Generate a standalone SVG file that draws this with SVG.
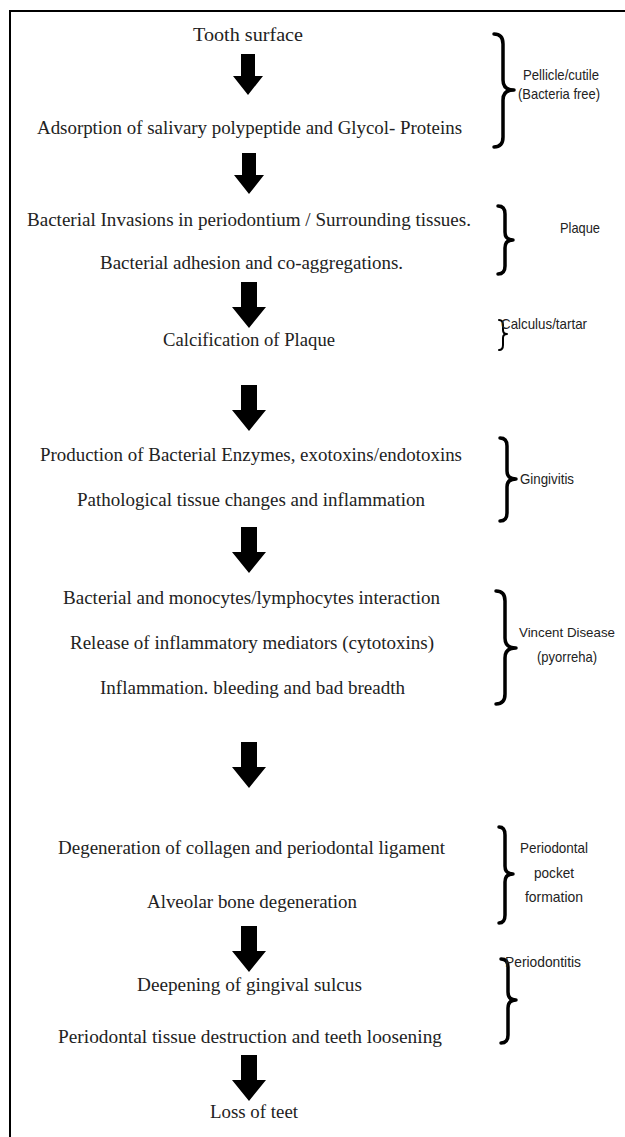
<svg xmlns="http://www.w3.org/2000/svg" xmlns:xlink="http://www.w3.org/1999/xlink" width="625" height="1137" viewBox="0 0 625 1137">
<style>
.t{font-family:"Liberation Serif","Times New Roman",serif;font-size:18px;fill:#222;text-anchor:middle}
.l{font-family:"Liberation Sans",Arial,sans-serif;font-size:15px;fill:#222}
.c{text-anchor:middle}
.br{fill:none;stroke:#000;stroke-width:3.5;stroke-linecap:round;stroke-linejoin:round}
.frame{fill:none;stroke:#000;stroke-width:2}
</style>
<defs>
<path id="arr" d="M-7,0 H7 V22 H15 L0,41 L-15,22 H-7 Z" fill="#000"/>
<path id="arrL" d="M-8,0 H8 V25 H17 L0,46 L-17,25 H-8 Z" fill="#000"/>
</defs>
<rect width="625" height="1137" fill="#fff"/>
<path class="frame" d="M10,1137 V11 H625"/>
<g id="connectors">
<use xlink:href="#arr" href="#arr" x="248" y="54"/>
<use xlink:href="#arr" href="#arr" x="249" y="153"/>
<use xlink:href="#arrL" href="#arrL" x="249" y="282"/>
<use xlink:href="#arrL" href="#arrL" x="249" y="385"/>
<use xlink:href="#arrL" href="#arrL" x="249" y="527"/>
<use xlink:href="#arrL" href="#arrL" x="249" y="742"/>
<use xlink:href="#arrL" href="#arrL" x="249" y="926"/>
<use xlink:href="#arrL" href="#arrL" x="249" y="1055"/>
</g>
<g id="n1"><text class="t" x="248" y="41" textLength="110" lengthAdjust="spacingAndGlyphs">Tooth surface</text></g>
<g id="n2"><text class="t" x="249.5" y="134" textLength="425" lengthAdjust="spacingAndGlyphs">Adsorption of salivary polypeptide and Glycol- Proteins</text></g>
<g id="n3"><text class="t" x="249" y="226" textLength="444" lengthAdjust="spacingAndGlyphs">Bacterial Invasions in periodontium / Surrounding tissues.</text></g>
<g id="n4"><text class="t" x="251.5" y="269" textLength="303" lengthAdjust="spacingAndGlyphs">Bacterial adhesion and co-aggregations.</text></g>
<g id="n5"><text class="t" x="249" y="346" textLength="172" lengthAdjust="spacingAndGlyphs">Calcification of Plaque</text></g>
<g id="n6"><text class="t" x="251" y="461" textLength="422" lengthAdjust="spacingAndGlyphs">Production of Bacterial Enzymes, exotoxins/endotoxins</text></g>
<g id="n7"><text class="t" x="251" y="506" textLength="348" lengthAdjust="spacingAndGlyphs">Pathological tissue changes and inflammation</text></g>
<g id="n8"><text class="t" x="251.5" y="604" textLength="377" lengthAdjust="spacingAndGlyphs">Bacterial and monocytes/lymphocytes interaction</text></g>
<g id="n9"><text class="t" x="252" y="649" textLength="364" lengthAdjust="spacingAndGlyphs">Release of inflammatory mediators (cytotoxins)</text></g>
<g id="n10"><text class="t" x="252.5" y="694" textLength="305" lengthAdjust="spacingAndGlyphs">Inflammation. bleeding and bad breadth</text></g>
<g id="n11"><text class="t" x="251.5" y="854" textLength="387" lengthAdjust="spacingAndGlyphs">Degeneration of collagen and periodontal ligament</text></g>
<g id="n12"><text class="t" x="252" y="908" textLength="210" lengthAdjust="spacingAndGlyphs">Alveolar bone degeneration</text></g>
<g id="n13"><text class="t" x="249.5" y="991" textLength="225" lengthAdjust="spacingAndGlyphs">Deepening of gingival sulcus</text></g>
<g id="n14"><text class="t" x="250" y="1043" textLength="384" lengthAdjust="spacingAndGlyphs">Periodontal tissue destruction and teeth loosening</text></g>
<g id="n15"><text class="t" x="254" y="1118" textLength="88" lengthAdjust="spacingAndGlyphs">Loss of teet</text></g>
<g id="b1">
<path class="br" d="M494,34 Q503,34 503,44 V80 Q503,90 514,90 Q503,90 503,100 V137 Q503,147 494,147"/>
<text class="l c" x="561" y="80" textLength="76" lengthAdjust="spacingAndGlyphs">Pellicle/cutile</text>
<text class="l c" x="559" y="99" textLength="82" lengthAdjust="spacingAndGlyphs">(Bacteria free)</text>
</g>
<g id="b2">
<path class="br" d="M498,206 Q505,206 505,214 V232 Q505,240 513,240 Q505,240 505,248 V266 Q505,274 498,274"/>
<text class="l c" x="580" y="233" textLength="40" lengthAdjust="spacingAndGlyphs">Plaque</text>
</g>
<g id="b3">
<path class="br" style="stroke-width:2" d="M499,320 Q503,320 503,325 V330 Q503,334 507,334 Q503,334 503,338 V345 Q503,350 499,350"/>
<text class="l" x="501" y="329" textLength="86" lengthAdjust="spacingAndGlyphs">Calculus/tartar</text>
</g>
<g id="b4">
<path class="br" d="M500,438 Q507,438 507,446 V471 Q507,479 516,479 Q507,479 507,487 V513 Q507,521 500,521"/>
<text class="l" x="520" y="484" textLength="54" lengthAdjust="spacingAndGlyphs">Gingivitis</text>
</g>
<g id="b5">
<path class="br" d="M496,591 Q505,591 505,601 V638 Q505,648 516,648 Q505,648 505,658 V694 Q505,704 496,704"/>
<text class="l c" x="567" y="637" style="font-size:13.5px" textLength="96" lengthAdjust="spacingAndGlyphs">Vincent Disease</text>
<text class="l c" x="567" y="662" textLength="60" lengthAdjust="spacingAndGlyphs">(pyorreha)</text>
</g>
<g id="b6">
<path class="br" d="M499,827 Q505,827 505,835 V866 Q505,874 513,874 Q505,874 505,882 V915 Q505,923 499,923"/>
<text class="l c" x="554" y="853" textLength="68" lengthAdjust="spacingAndGlyphs">Periodontal</text>
<text class="l c" x="554" y="878" textLength="40" lengthAdjust="spacingAndGlyphs">pocket</text>
<text class="l c" x="554" y="902" textLength="58" lengthAdjust="spacingAndGlyphs">formation</text>
</g>
<g id="b7">
<path class="br" d="M501,959 Q508,959 508,967 V992 Q508,1000 516,1000 Q508,1000 508,1008 V1035 Q508,1043 501,1043"/>
<text class="l" x="505" y="967" textLength="76" lengthAdjust="spacingAndGlyphs">Periodontitis</text>
</g>
</svg>
